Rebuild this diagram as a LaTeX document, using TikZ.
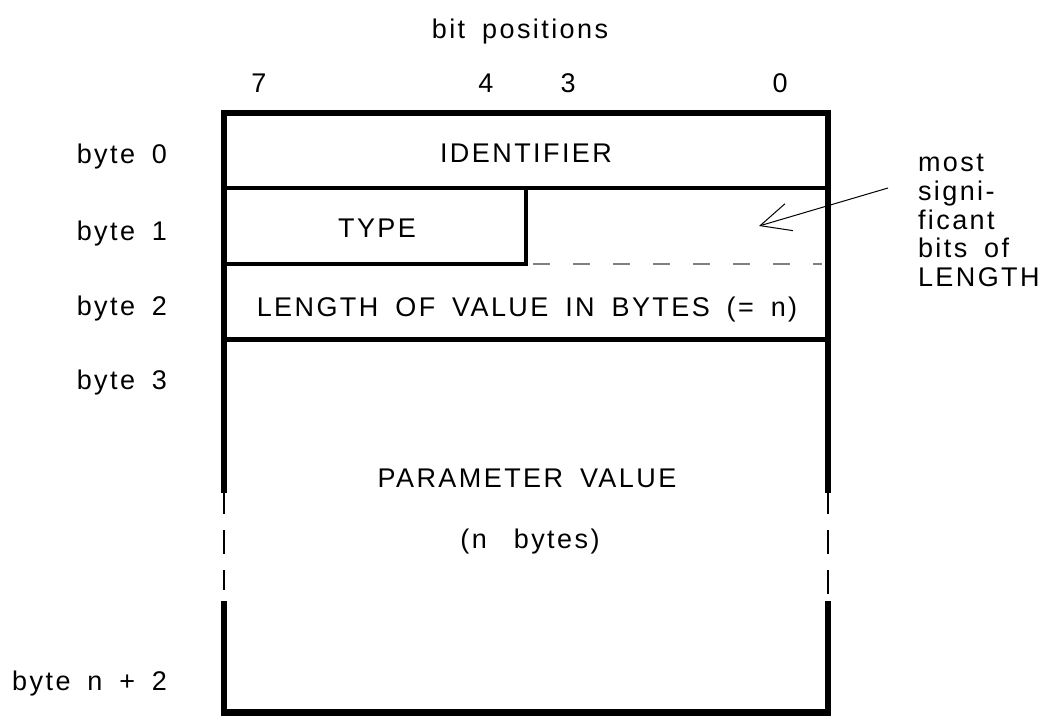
\documentclass[tikz,border=0pt]{standalone}
\usepackage{fontspec}
\setmainfont{Liberation Sans}[LetterSpace=9, WordSpace=1.7]
\usetikzlibrary{arrows.meta}
\tikzset{
  lbl/.style={inner sep=0pt, outer sep=0pt, font=\fontsize{27}{30}\selectfont, anchor=base},
  lblr/.style={lbl, anchor=base east},
  lbll/.style={lbl, anchor=base west},
  frame/.style={line width=6.5pt, line join=miter, line cap=rect},
  rowline/.style={line width=4.5pt},
  typeline/.style={line width=3.5pt, line join=miter},
  graydash/.style={line width=1.5pt, draw=black!50, dash pattern=on 17pt off 23pt},
  gapdash/.style={line width=1.5pt, dash pattern=on 24pt off 16pt},
  pointer/.style={line width=1pt, -{Straight Barb[length=30pt, width=28pt, line width=1pt]}}
}
\begin{document}
\begin{tikzpicture}[x=1pt, y=-1pt]
\useasboundingbox (0,0) rectangle (1048,716);

% header
\node[lbl] (bitpos) at (520,38) {bit positions};
\node[lbl] (b7) at (259,92) {7};
\node[lbl] (b4) at (486,92) {4};
\node[lbl] (b3) at (568,92) {3};
\node[lbl] (b0) at (780,92) {0};

% byte labels
\node[lblr] (byte0) at (167,163) {byte 0};
\node[lblr] (byte1) at (167,240) {byte 1};
\node[lblr] (byte2) at (167,315) {byte 2};
\node[lblr] (byte3) at (167,389) {byte 3};
\node[lblr] (byten) at (167,690) {byte n + 2};

% frame
\draw[frame] (224,490) -- (224,113) -- (828,113) -- (828,490);
\draw[frame] (224,604) -- (224,712.5) -- (828,712.5) -- (828,604);
\draw[gapdash] (224,490) -- (224,590);
\draw[gapdash] (828,490) -- (828,594);

% rows
\draw[rowline] (224,188) -- (828,188);
\draw[typeline] (526,188) -- (526,264) -- (224,264);
\draw[graydash] (533,264) -- (822,264);
\draw[rowline] (224,339.5) -- (828,339.5);

% field texts
\node[lbl] (ident) at (526,162) {IDENTIFIER};
\node[lbl] (type) at (377,237) {TYPE};
\node[lbl] (len) at (527,316) {LENGTH OF VALUE IN BYTES (= n)};
\node[lbl] (param) at (527,487) {PARAMETER VALUE};
\node[lbl] (nbytes) at (530,548) {(n\hspace{27pt}bytes)};

% side note
\node[lbll] (r1) at (918,171) {most};
\node[lbll] (r2) at (918,200) {signi-};
\node[lbll] (r3) at (918,229) {ficant};
\node[lbll] (r4) at (918,257.5) {bits of};
\node[lbll] (r5) at (918,286) {LENGTH};

\coordinate (arrStart) at (888,188);
\coordinate (arrTip) at (759,226);
\draw[pointer] (arrStart) -- (arrTip);
\end{tikzpicture}
\end{document}
